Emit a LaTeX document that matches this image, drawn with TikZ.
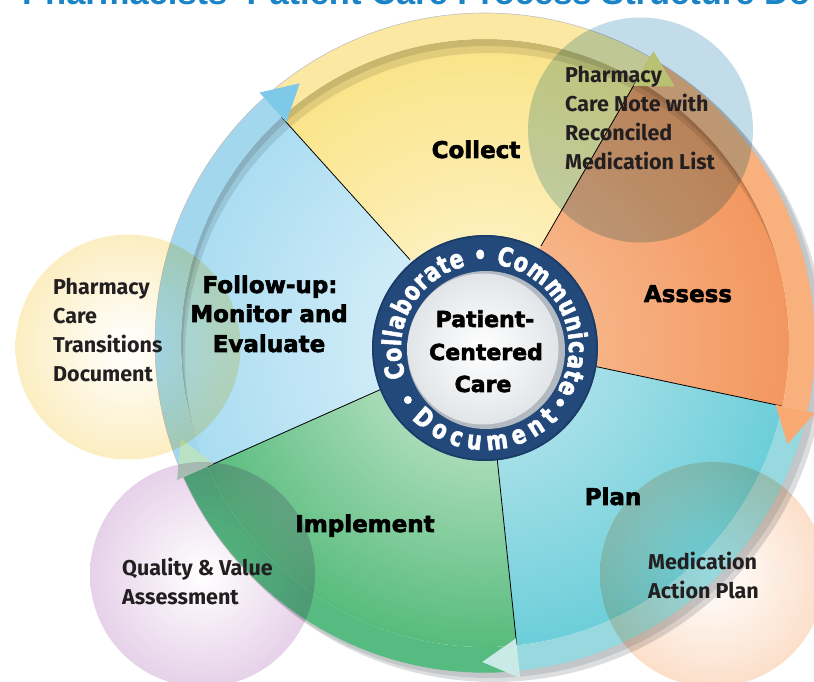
\documentclass[tikz,border=0pt]{standalone}
\usepackage{fontspec}
\setmainfont{DejaVu Sans}[BoldFeatures={FakeBold=2.5}]
\newfontfamily\notefont{Fira Sans}
\newfontfamily\hubfont{DejaVu Sans}[FakeStretch=0.8, BoldFeatures={FakeBold=2}]
\newfontfamily\titlefont{Liberation Sans}
\usetikzlibrary{calc,decorations.text}

% palette
\definecolor{titleblue}{HTML}{1B84C6}
\definecolor{hubnavy}{HTML}{23497B}
\definecolor{hubedge}{HTML}{1A3B66}
\definecolor{hubrim}{HTML}{B3B9C0}
\definecolor{hubface}{HTML}{E2E5E8}
\definecolor{inkdark}{HTML}{231F20}
\definecolor{diskshadow}{HTML}{C4C7CA}
% sector shading (centre -> rim)
\definecolor{collectIn}{HTML}{FFF6D6}\definecolor{collectOut}{HTML}{F6D54A}
\definecolor{assessIn}{HTML}{F9C39C}\definecolor{assessOut}{HTML}{EF7D3C}
\definecolor{planIn}{HTML}{C6E9F0}\definecolor{planOut}{HTML}{27BAC8}
\definecolor{implIn}{HTML}{D7EEDA}\definecolor{implOut}{HTML}{12A04A}
\definecolor{followIn}{HTML}{E4F4FB}\definecolor{followOut}{HTML}{78C8E9}
% outer cycle band and its arrowheads
\definecolor{ringCollect}{HTML}{FBE8A2}\definecolor{headCollect}{HTML}{F2E07E}
\definecolor{ringAssess}{HTML}{F8B07C}\definecolor{headAssess}{HTML}{F8AA72}
\definecolor{ringPlan}{HTML}{97D9DF}\definecolor{headPlan}{HTML}{C9EAE7}
\definecolor{ringImpl}{HTML}{55BB80}\definecolor{headImpl}{HTML}{B9E1C3}
\definecolor{ringFollow}{HTML}{A3D7EE}\definecolor{headFollow}{HTML}{7EC8E8}
% document bubbles
\definecolor{blueSat}{HTML}{C3DCEA}
\definecolor{yellowSat}{HTML}{FCEEC2}
\definecolor{purpleSat}{HTML}{E6D1E9}
\definecolor{peachSat}{HTML}{FCDFCA}

\tikzset{
  divider/.style={draw=black, line width=0.8pt},
  sectorlabel/.style={font=\bfseries\fontsize{23}{23}\selectfont, text=black, inner sep=0pt, anchor=base},
  hubtext/.style={font=\bfseries\fontsize{22}{22}\selectfont, text=black, inner sep=0pt, anchor=base},
  note/.style={font=\notefont\bfseries\fontsize{21.5}{21.5}\selectfont, text=inkdark, inner sep=0pt, anchor=base west},
}

% one coloured wedge of the process wheel (#5: shading radius, rim colour reached at half of it)
\newcommand\wedgefill[5]{%
  \begin{scope}
    \clip (C) -- ($(C)+(#1:304)$) arc[start angle=#1, end angle=#2, radius=304] -- cycle;
    \shade[inner color=#3, outer color=#4] (C) circle (#5);
  \end{scope}}
% one piece of the outer cycle band
\newcommand\bandpiece[3]{%
  \fill[#3] ($(C)+(#1:330)$) arc[start angle=#1, end angle=#2, radius=330]
    -- ($(C)+(#2:304)$) arc[start angle=#2, end angle=#1, radius=304] -- cycle;}
% clockwise arrowhead sitting on the band
\newcommand\bandhead[2]{%
  \fill[#2] ($(C)+(#1:297)$) -- ($(C)+(#1:337)$) -- ($(C)+({#1-6.5}:319)$) -- cycle;}

\begin{document}
\begin{tikzpicture}[x=1pt, y=1pt]
\useasboundingbox (0,0) rectangle (814,682);
\clip (0,0) rectangle (814,682);

\coordinate (C) at (485,339);   % wheel centre
\coordinate (N) at (485,334);   % hub centre

% title line
\node[anchor=base west, inner sep=0pt, text=titleblue,
      font=\titlefont\bfseries\fontsize{34.5}{34.5}\selectfont] (title) at (22,677)
  {Pharmacists’ Patient Care Process Structure Do};

% drop shadow of the wheel
\fill[diskshadow!60] ($(C)+(9,-8)$) circle (331);
\fill[diskshadow] ($(C)+(5,-4)$) circle (331);
\fill[white] (C) circle (330);

% wedges
\wedgefill{60}{132}{collectIn}{collectOut}{540}
\wedgefill{132}{204}{followIn}{followOut}{560}
\wedgefill{204}{276}{implIn}{implOut}{470}
\wedgefill{276}{348}{planIn}{planOut}{540}
\wedgefill{-12}{60}{assessIn}{assessOut}{480}

% recessed upper rim
\begin{scope}
  \clip (C) circle (304);
  \fill[black, opacity=0.10, even odd rule] (C) circle (345) ($(C)+(4,-14)$) circle (304);
  \fill[black, opacity=0.10, even odd rule] (C) circle (345) ($(C)+(2,-7)$) circle (304);
\end{scope}

% wedge borders
\foreach \a in {60,132,204,276,348}
  \draw[divider] ($(C)+(\a:112)$) -- ($(C)+(\a:304)$);

% cycle band
\bandpiece{60}{132}{ringCollect}
\bandpiece{132}{204}{ringFollow}
\bandpiece{204}{276}{ringImpl}
\bandpiece{276}{348}{ringPlan}
\bandpiece{-12}{60}{ringAssess}
\draw[black!25, line width=0.6pt] (C) circle (330);
\bandhead{132}{headFollow}
\bandhead{60}{headCollect}
\bandhead{-12}{headAssess}
\bandhead{-84}{headPlan}
\bandhead{204}{headImpl}

% hub
\fill[hubnavy] (N) circle (113);
\draw[hubedge, line width=1.5pt] (N) circle (112);
\fill[hubrim] ($(N)+(1,-2)$) circle (79);
\shade[inner color=white, outer color=hubface] ($(N)+(-2,-1)$) circle (75.5);
\path[decorate, decoration={text along path, text color=white,
      text align={fit to path},
      text={|\hubfont\bfseries\fontsize{26}{26}\selectfont|Collaborate {\textbullet} Communicate}}]
  ($(N)+(200:84)$) arc[start angle=200, end angle=-31, radius=84];
\path[decorate, decoration={text along path, text color=white,
      text align={fit to path},
      text={|\hubfont\bfseries\fontsize{26}{26}\selectfont|Document}}]
  ($(N)+(224:102)$) arc[start angle=224, end angle=316, radius=102];
\fill[white] ($(N)+(214:93)$) circle (4);
\fill[white] ($(N)+(-36:93)$) circle (4);

\node[hubtext] (hub1) at (485,355) {Patient-};
\node[hubtext] (hub2) at (486,322) {Centered};
\node[hubtext] (hub3) at (483,290) {Care};

% wedge labels
\node[sectorlabel] (collect) at (476,524) {Collect};
\node[sectorlabel] (assess) at (688,380) {Assess};
\node[sectorlabel] (plan) at (613,177) {Plan};
\node[sectorlabel] (implement) at (365,150) {Implement};
\node[sectorlabel] (follow1) at (270,389) {Follow-up:};
\node[sectorlabel] (follow2) at (269,360) {Monitor and};
\node[sectorlabel] (follow3) at (269,330) {Evaluate};

% document bubbles
\begin{scope}[blend mode=multiply]
  \fill[blueSat] (640.5,552) circle (112.5);
  \shade[inner color=white, outer color=yellowSat] (128,335) circle (112.5);
  \shade[inner color=white, outer color=purpleSat] (202.5,107.5) circle (112.5);
  \shade[inner color=white, outer color=peachSat] (712.5,107.5) circle (112.5);
\end{scope}

\node[note] (noteA1) at (565,599) {Pharmacy};
\node[note] (noteA2) at (565,570) {Care Note with};
\node[note] (noteA3) at (565,541) {Reconciled};
\node[note] (noteA4) at (565,512) {Medication List};

\node[note] (noteB1) at (53,387) {Pharmacy};
\node[note] (noteB2) at (53,358) {Care};
\node[note] (noteB3) at (53,329) {Transitions};
\node[note] (noteB4) at (53,300) {Document};

\node[note] (noteC1) at (122,106) {Quality \& Value};
\node[note] (noteC2) at (122,77) {Assessment};

\node[note] (noteD1) at (648,112) {Medication};
\node[note] (noteD2) at (648,83) {Action Plan};
\end{tikzpicture}
\end{document}
